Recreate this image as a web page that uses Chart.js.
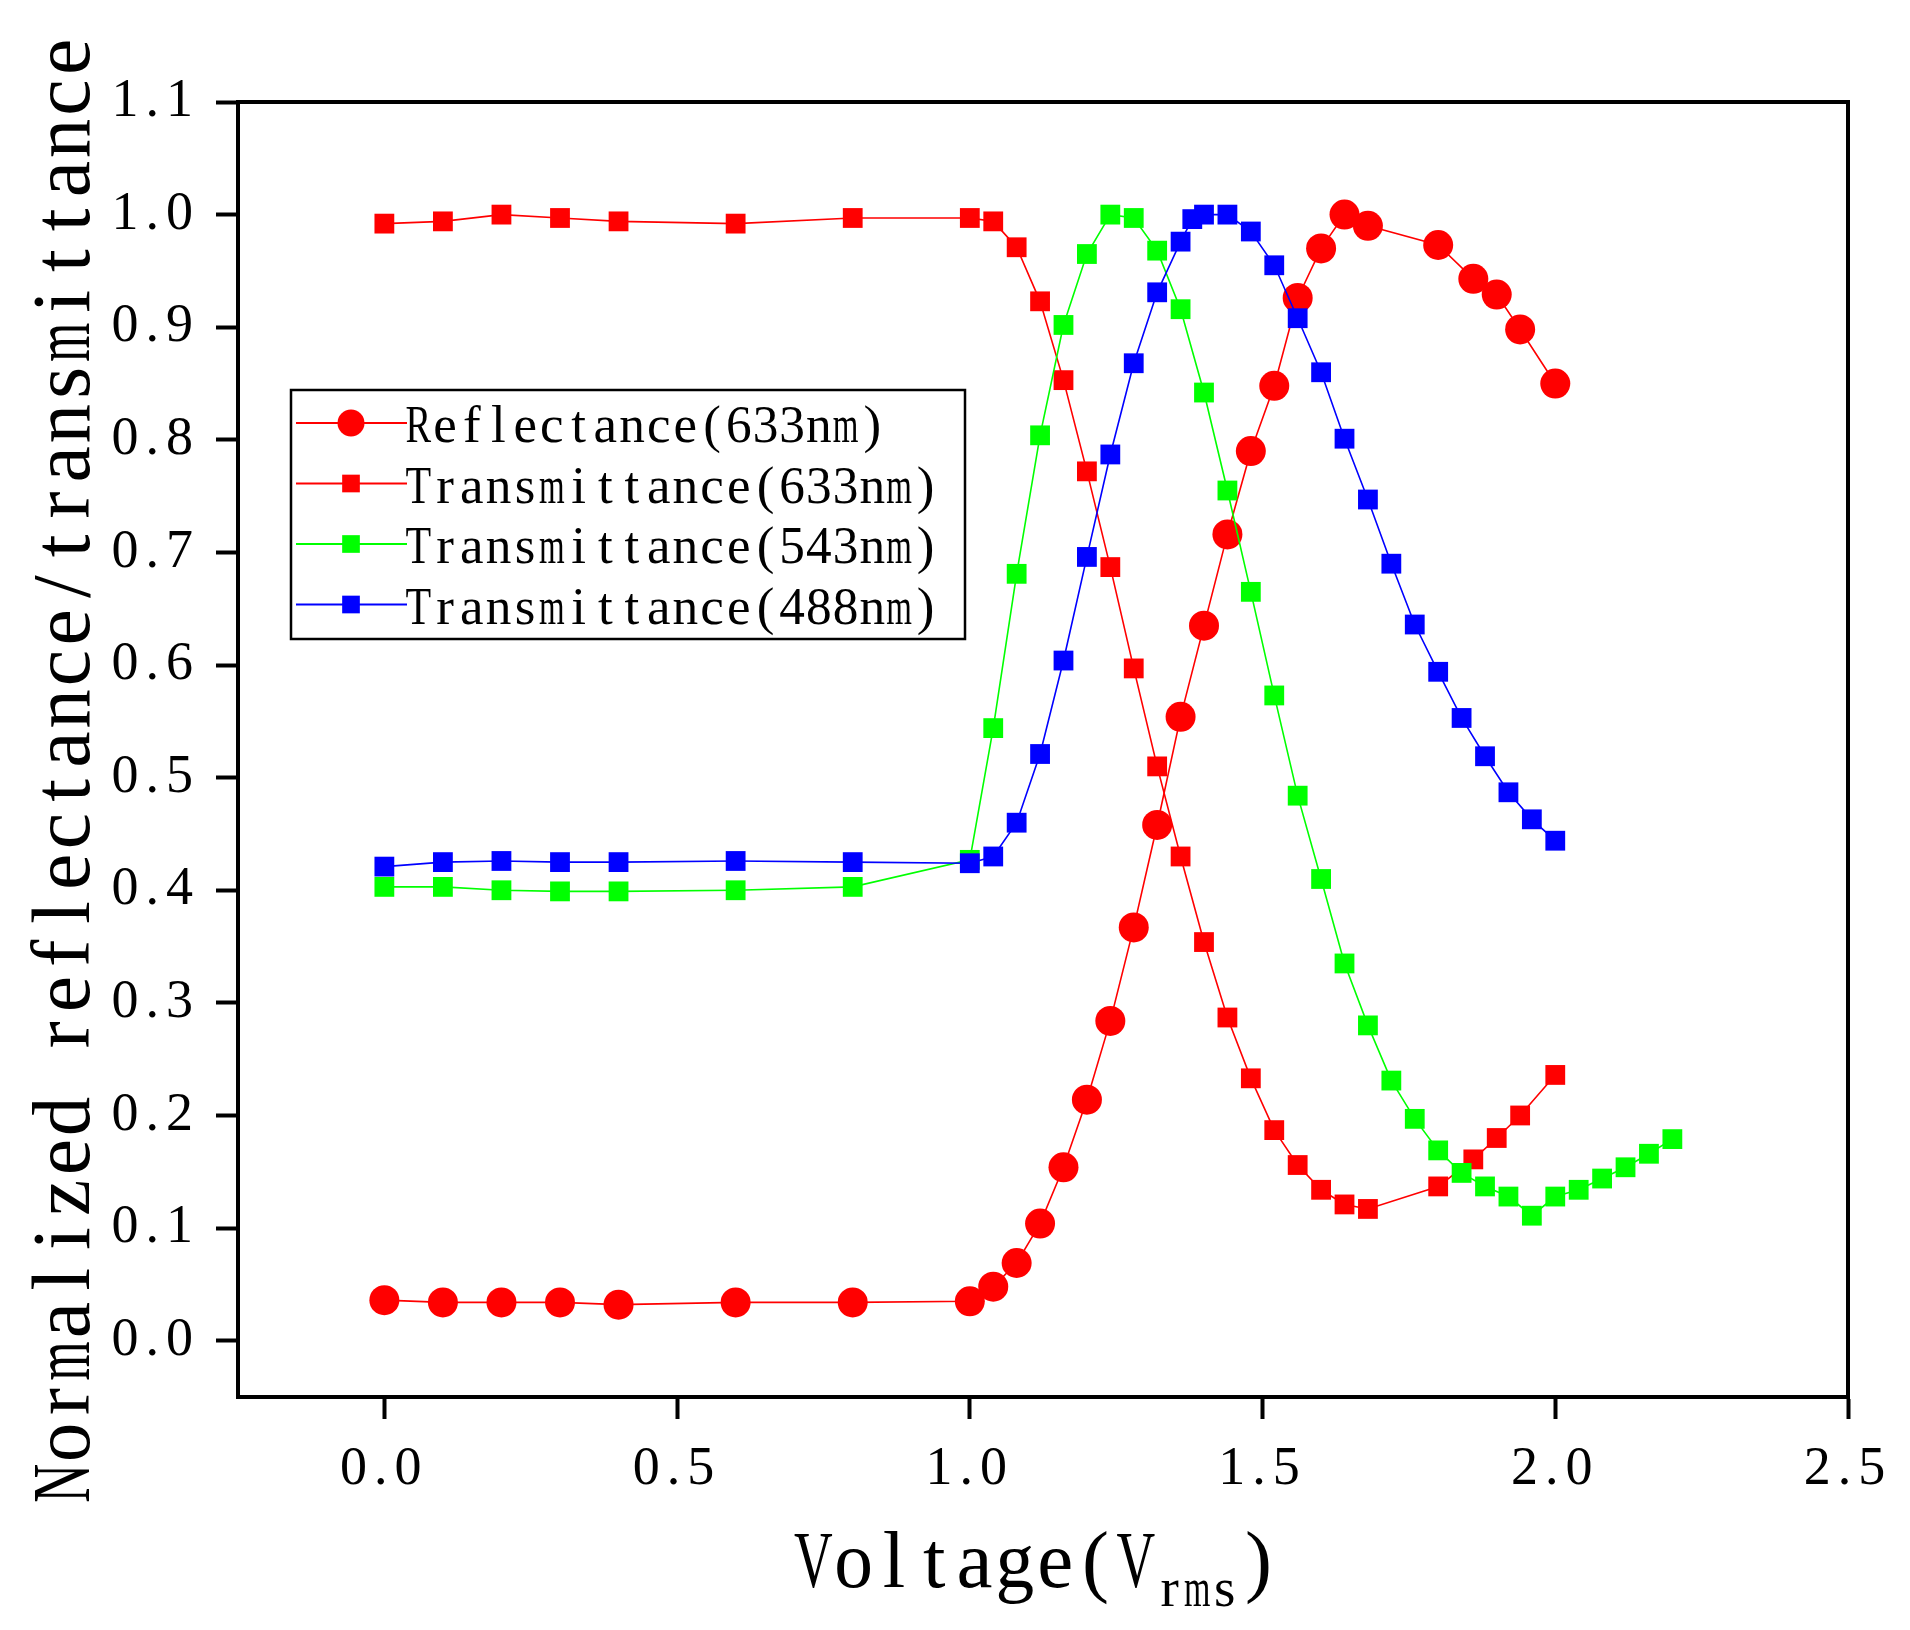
<!DOCTYPE html>
<html>
<head>
<meta charset="utf-8">
<script src="https://cdn.jsdelivr.net/npm/chart.js@4.4.1/dist/chart.umd.min.js"></script>
<style>
  html, body { margin: 0; padding: 0; background: #fff; }
  canvas { display: block; }
</style>
</head>
<body>
<canvas id="chart" width="1910" height="1630"></canvas>
<script>
// voltages (Vrms) for the red series
const voltsRed = [0, 0.1, 0.2, 0.3, 0.4, 0.6, 0.8, 1.0, 1.04, 1.08, 1.12, 1.16, 1.20, 1.24, 1.28, 1.32,
    1.36, 1.40, 1.44, 1.48, 1.52, 1.56, 1.60, 1.64, 1.68, 1.80, 1.86, 1.90, 1.94, 2.00];
const reflect633 = [0.036, 0.034, 0.034, 0.034, 0.032, 0.034, 0.034, 0.035, 0.048, 0.069, 0.104, 0.154,
    0.214, 0.284, 0.367, 0.458, 0.554, 0.635, 0.716, 0.790, 0.848, 0.926, 0.970, 1.000, 0.990, 0.973,
    0.943, 0.929, 0.898, 0.850];
const trans633 = [0.992, 0.994, 1.000, 0.997, 0.994, 0.992, 0.997, 0.997, 0.994, 0.971, 0.923, 0.853,
    0.772, 0.687, 0.597, 0.510, 0.430, 0.354, 0.287, 0.233, 0.187, 0.156, 0.134, 0.121, 0.117, 0.137,
    0.161, 0.180, 0.200, 0.236];

const voltsGreen = [0, 0.1, 0.2, 0.3, 0.4, 0.6, 0.8, 1.0, 1.04, 1.08, 1.12, 1.16, 1.20, 1.24, 1.28, 1.32,
    1.36, 1.40, 1.44, 1.48, 1.52, 1.56, 1.60, 1.64, 1.68, 1.72, 1.76, 1.80, 1.84, 1.88, 1.92, 1.96, 2.00,
    2.04, 2.08, 2.12, 2.16, 2.20];
const trans543 = [0.403, 0.403, 0.400, 0.399, 0.399, 0.400, 0.403, 0.427, 0.544, 0.681, 0.804, 0.902,
    0.965, 1.000, 0.997, 0.968, 0.916, 0.842, 0.755, 0.665, 0.573, 0.484, 0.410, 0.335, 0.280, 0.231,
    0.197, 0.169, 0.149, 0.137, 0.128, 0.111, 0.128, 0.134, 0.144, 0.154, 0.166, 0.179];

const voltsBlue = [0, 0.1, 0.2, 0.3, 0.4, 0.6, 0.8, 1.0, 1.04, 1.08, 1.12, 1.16, 1.20, 1.24, 1.28, 1.32,
    1.36, 1.38, 1.40, 1.44, 1.48, 1.52, 1.56, 1.60, 1.64, 1.68, 1.72, 1.76, 1.80, 1.84, 1.88, 1.92, 1.96, 2.00];
const trans488 = [0.421, 0.425, 0.426, 0.425, 0.425, 0.426, 0.425, 0.424, 0.430, 0.460, 0.521, 0.604,
    0.696, 0.787, 0.868, 0.931, 0.976, 0.996, 1.000, 1.000, 0.985, 0.955, 0.908, 0.860, 0.801, 0.747,
    0.690, 0.636, 0.594, 0.553, 0.519, 0.487, 0.463, 0.444];

const xTicks = [0, 0.5, 1.0, 1.5, 2.0, 2.5];
const yTicks = [0, 0.1, 0.2, 0.3, 0.4, 0.5, 0.6, 0.7, 0.8, 0.9, 1.0, 1.1];

const SERIF = '"Liberation Serif", "DejaVu Serif", serif';

function pairs(xs, ys) {
    return xs.map((x, i) => ({ x: x, y: ys[i] }));
}

function marker(ctx, style, x, y, r, color) {
    ctx.fillStyle = color;
    ctx.beginPath();
    if (style === 'circle') {
        ctx.arc(x, y, r, 0, Math.PI * 2);
    } else {
        const s = r * Math.SQRT1_2;
        ctx.rect(x - s, y - s, 2 * s, 2 * s);
    }
    ctx.fill();
}

// fixed-pitch text: every character gets its own cell (like a half-width CJK font)
function cellText(ctx, text, x, y, size, cell) {
    ctx.font = size + 'px ' + SERIF;
    ctx.textAlign = 'center';
    ctx.textBaseline = 'alphabetic';
    for (let i = 0; i < text.length; i++) {
        ctx.fillText(text[i], x + cell * (i + 0.5), y, cell * 0.96);
    }
    return x + cell * text.length;
}

const decor = {
    id: 'decor',
    beforeDraw(chart) {
        chart.ctx.letterSpacing = '7px';
    },
    afterDraw(chart) {
        const ctx = chart.ctx;
        const a = chart.chartArea;
        ctx.save();
        ctx.letterSpacing = '0px';
        ctx.strokeStyle = '#000';
        ctx.lineWidth = 4;
        ctx.beginPath();
        ctx.moveTo(a.left - 2, a.top);
        ctx.lineTo(a.right, a.top);
        ctx.lineTo(a.right, a.bottom + 2);
        ctx.stroke();

        ctx.fillStyle = '#000';

        // x title: Voltage(V_rms)
        const big = 40.3, small = 27.5;
        let x = 1036 - (10 * big + 3 * small) / 2;
        x = cellText(ctx, 'Voltage(V', x, 1587, 81, big);
        x = cellText(ctx, 'rms', x, 1606, 55, small);
        cellText(ctx, ')', x, 1587, 81, big);

        // y title
        const yTitle = 'Normalized reflectance/transmittance';
        ctx.save();
        ctx.translate(89, 770);
        ctx.rotate(-Math.PI / 2);
        cellText(ctx, yTitle, -yTitle.length * 40.75 / 2, 0, 82, 40.75);
        ctx.restore();

        // legend
        ctx.strokeStyle = '#000';
        ctx.lineWidth = 2.5;
        ctx.strokeRect(291, 390, 674, 249);
        chart.data.datasets.forEach((ds, i) => {
            const y = 423 + i * 60.5;
            ctx.strokeStyle = ds.borderColor;
            ctx.lineWidth = 2;
            ctx.beginPath();
            ctx.moveTo(296, y);
            ctx.lineTo(407, y);
            ctx.stroke();
            marker(ctx, ds.pointStyle, 351, y, ds.pointStyle === 'circle' ? 13.5 : 12.5, ds.borderColor);
            ctx.fillStyle = '#000';
            cellText(ctx, ds.label, 405, y + 19, 53, 26.7);
        });
        ctx.restore();
    }
};

function axisStyle() {
    return {
        display: true,
        drawOnChartArea: false,
        drawTicks: true,
        tickLength: 22,
        tickWidth: 4,
        tickColor: '#000'
    };
}

new Chart(document.getElementById('chart'), {
    type: 'line',
    data: {
        datasets: [{
            label: 'Reflectance(633nm)',
            data: pairs(voltsRed, reflect633),
            borderColor: '#ff0000',
            backgroundColor: '#ff0000',
            pointStyle: 'circle',
            pointRadius: 15,
            order: 4
        }, {
            label: 'Transmittance(633nm)',
            data: pairs(voltsRed, trans633),
            borderColor: '#ff0000',
            backgroundColor: '#ff0000',
            pointStyle: 'rect',
            pointRadius: 14,
            order: 3
        }, {
            label: 'Transmittance(543nm)',
            data: pairs(voltsGreen, trans543),
            borderColor: '#00ff00',
            backgroundColor: '#00ff00',
            pointStyle: 'rect',
            pointRadius: 14,
            order: 2
        }, {
            label: 'Transmittance(488nm)',
            data: pairs(voltsBlue, trans488),
            borderColor: '#0000ff',
            backgroundColor: '#0000ff',
            pointStyle: 'rect',
            pointRadius: 14,
            order: 1
        }]
    },
    options: {
        responsive: false,
        devicePixelRatio: 1,
        animation: false,
        events: [],
        layout: { padding: { left: 0, top: 102, right: 62, bottom: 0 } },
        elements: {
            line: { borderWidth: 1.6, tension: 0 },
            point: { borderWidth: 0 }
        },
        plugins: {
            legend: { display: false },
            tooltip: { enabled: false }
        },
        scales: {
            x: {
                type: 'linear',
                min: -0.25,
                max: 2.5,
                afterFit(scale) { scale.height = 233; },
                afterBuildTicks(scale) { scale.ticks = xTicks.map(v => ({ value: v })); },
                grid: axisStyle(),
                border: { display: true, width: 4, color: '#000' },
                ticks: {
                    color: '#000',
                    padding: 18,
                    maxRotation: 0,
                    font: { family: SERIF, size: 54 },
                    callback: v => v.toFixed(1)
                }
            },
            y: {
                type: 'linear',
                min: -0.05,
                max: 1.1,
                afterFit(scale) { scale.width = 238; },
                afterBuildTicks(scale) { scale.ticks = yTicks.map(v => ({ value: v })); },
                grid: axisStyle(),
                border: { display: true, width: 4, color: '#000' },
                ticks: {
                    color: '#000',
                    padding: 16,
                    font: { family: SERIF, size: 54 },
                    callback: v => v.toFixed(1)
                }
            }
        }
    },
    plugins: [decor]
});
</script>
</body>
</html>
